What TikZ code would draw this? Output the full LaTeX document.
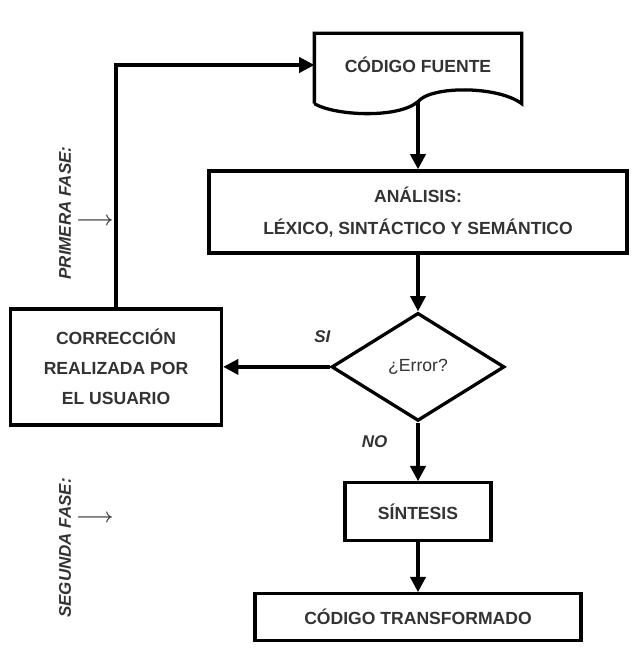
\documentclass[tikz,border=0pt]{standalone}
\usepackage{fontspec}
\usepackage{bm}
\setmainfont{Liberation Sans}
\usetikzlibrary{arrows.meta,calc,positioning,shapes.geometric}

\begin{document}
\begin{tikzpicture}[auto,>={Triangle[length=13pt,width=13pt]},line width=2.8pt,font=\fontsize{15}{27}\selectfont\bfseries]
	\tikzstyle{block} = [draw, rectangle, align=center, inner sep=0pt, text=black!80]
	\tikzstyle{decision} = [draw, diamond, inner sep=0pt, minimum width=5.19cm, minimum height=3.24cm, text=black!80]
	\tikzstyle{fase} = [rotate=90, font=\fontsize{14.5}{17}\selectfont\bfseries\itshape, text=black!80]
	\tikzstyle{etiqueta} = [font=\fontsize{14.5}{17}\selectfont\bfseries\itshape, text=black!80]
	\tikzstyle{flecha} = [text=black!75, font=\fontsize{16}{17}\selectfont]
	
	\useasboundingbox (0,0) rectangle (19.32,-19.89);
	
	\node [rectangle, minimum width=6.12cm, minimum height=1.8cm, text=black!80] (fuente) at (12.54,-1.95) {CÓDIGO FUENTE};
	\coordinate (pie) at ($(fuente.south)+(0,-0.15)$);
	\node [block, below = 2.18cm of fuente, minimum width=12.54cm, minimum height=2.46cm] (analisis) {ANÁLISIS:\\LÉXICO, SINTÁCTICO Y SEMÁNTICO};
	\node [decision, below = 1.7cm of analisis] (error) {\mdseries¿Error?};
	\node [block, left = 3.2cm of error, minimum width=6.33cm, minimum height=3.48cm, font=\fontsize{15}{25.5}\selectfont\bfseries] (correccion) {CORRECCIÓN\\REALIZADA POR\\EL USUARIO};
	\node [block, below = 1.76cm of error, minimum width=4.38cm, minimum height=1.74cm] (sintesis) {SÍNTESIS};
	\node [block, below = 1.49cm of sintesis, minimum width=9.78cm, minimum height=1.41cm] (transformado) {CÓDIGO TRANSFORMADO};
	
	% documento con borde ondulado
	\draw (fuente.south west) ++(0,-0.21) -- (fuente.north west) -- (fuente.north east) -- ($(fuente.south east)+(0,-0.21)$)
		.. controls ($(fuente.south west)+(5.5,0.33)$) and ($(fuente.south west)+(3.5,0.33)$) .. (pie)
		.. controls ($(fuente.south west)+(2.5,-0.67)$) and ($(fuente.south west)+(0.6,-0.57)$) .. ($(fuente.south west)+(0,-0.21)$);
	
	\node [fase] (primera) at (1.95,-6.39) {PRIMERA FASE:};
	\node [flecha] (flecha1) at (2.85,-6.66) {$\bm{\longrightarrow}$};
	\node [fase] (segunda) at (1.95,-16.44) {SEGUNDA FASE:};
	\node [flecha] (flecha2) at (2.85,-15.57) {$\bm{\longrightarrow}$};
	
	\draw [->] (pie) -- (analisis);
	\draw [->] (analisis) -- (error);
	\draw [->] (error) --node[etiqueta, pos=0.07, above=0.55cm]{SI} (correccion);
	\draw [->] (error) --node[etiqueta, pos=0.32, left=0.75cm]{NO} (sintesis);
	\draw [->] (sintesis) -- (transformado);
	\draw [->] (correccion.north) |- (fuente.west);
	
\end{tikzpicture}
\end{document}
